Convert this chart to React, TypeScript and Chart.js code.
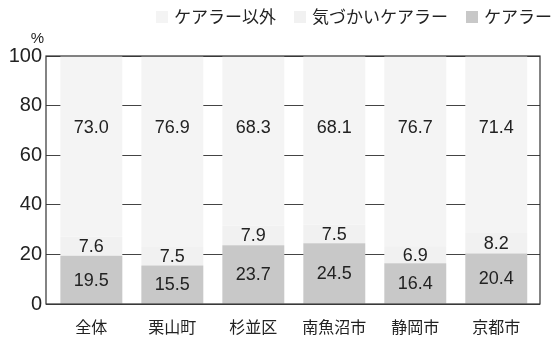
import React, { useEffect, useRef } from "react";
import { Chart, registerables } from "chart.js";

Chart.register(...registerables);

const categories = ["全体", "栗山町", "杉並区", "南魚沼市", "静岡市", "京都市"];
const carer = [19.5, 15.5, 23.7, 24.5, 16.4, 20.4];
const considerateCarer = [7.6, 7.5, 7.9, 7.5, 6.9, 8.2];
const nonCarer = [73.0, 76.9, 68.3, 68.1, 76.7, 71.4];
const seriesNames = ["ケアラー", "気づかいケアラー", "ケアラー以外"];
const seriesColors = ["#c8c8c8", "#f1f1f1", "#f4f4f4"];
const yTicks = [0, 20, 40, 60, 80, 100];
const nonCarerLabelLevel = 71.5;

const FONT = "'Liberation Sans', 'Noto Sans CJK JP', sans-serif";
const TEXT = "#222";

export default function App() {
  const ref = useRef<HTMLCanvasElement | null>(null);

  useEffect(() => {
    if (!ref.current) return;
    const toXY = (arr: number[]) => arr.map((v, i) => ({ x: i, y: v }));

    const labelPlugin = {
      id: "labels",
      afterDatasetsDraw(chart: any) {
        const ctx = chart.ctx;
        const ca = chart.chartArea;
        const yScale = chart.scales.y;
        // frame
        ctx.save();
        ctx.strokeStyle = "#333";
        ctx.lineWidth = 1.2;
        ctx.strokeRect(ca.left, ca.top, ca.right - ca.left, ca.bottom - ca.top);
        ctx.restore();
        // value labels
        ctx.save();
        ctx.font = `18px ${FONT}`;
        ctx.fillStyle = TEXT;
        ctx.textAlign = "center";
        ctx.textBaseline = "middle";
        chart.data.datasets.forEach((ds: any, di: number) => {
          const meta = chart.getDatasetMeta(di);
          meta.data.forEach((el: any, i: number) => {
            const v = ds.data[i].y;
            let y: number;
            if (di === 2) y = yScale.getPixelForValue(nonCarerLabelLevel);
            else y = (el.y + el.base) / 2;
            ctx.fillText(v.toFixed(1), el.x, y + 1);
          });
        });
        // percent unit
        ctx.font = `15px ${FONT}`;
        ctx.textAlign = "right";
        ctx.fillText("%", ca.left - 2, ca.top - 17);
        ctx.restore();

        // legend (reverse order, right aligned)
        ctx.save();
        const fs = 17;
        const box = 12;
        const boxGap = 6;
        const itemGap = 18;
        ctx.font = `${fs}px ${FONT}`;
        ctx.textBaseline = "middle";
        ctx.textAlign = "left";
        const order = [2, 1, 0];
        const widths = order.map((di) => box + boxGap + ctx.measureText(seriesNames[di]).width);
        const total = widths.reduce((a, b) => a + b, 0) + itemGap * (order.length - 1);
        let x = chart.width - 8 - total;
        const cy = 17;
        order.forEach((di, k) => {
          ctx.fillStyle = seriesColors[di];
          ctx.fillRect(x, cy - box / 2, box, box);
          ctx.fillStyle = TEXT;
          ctx.fillText(seriesNames[di], x + box + boxGap, cy + 1);
          x += widths[k] + itemGap;
        });
        ctx.restore();
      },
    };

    const chart = new Chart(ref.current, {
      type: "bar",
      data: {
        datasets: seriesNames.map((name, i) => ({
          label: name,
          data: toXY([carer, considerateCarer, nonCarer][i]),
          backgroundColor: seriesColors[i],
          borderWidth: 0,
        })),
      },
      plugins: [labelPlugin],
      options: {
        animation: false,
        responsive: true,
        maintainAspectRatio: false,
        datasets: {
          bar: { categoryPercentage: 1, barPercentage: 0.765 },
        },
        layout: { padding: { left: 0, right: 20, top: 56, bottom: 0 } },
        plugins: {
          tooltip: { enabled: false },
          legend: { display: false },
        },
        scales: {
          x: {
            type: "linear",
            stacked: true,
            offset: false,
            min: -0.56,
            max: 5.54,
            grid: { display: false },
            border: { display: false },
            afterBuildTicks: (scale: any) => {
              scale.ticks = categories.map((_, i) => ({ value: i }));
            },
            afterFit: (scale: any) => {
              scale.height = 34;
            },
            ticks: {
              callback: (v: any) => categories[v as number] ?? "",
              font: { family: FONT, size: 16 },
              color: TEXT,
              padding: 7,
              maxRotation: 0,
              autoSkip: false,
            },
          },
          y: {
            stacked: true,
            min: 0,
            max: 100,
            afterBuildTicks: (scale: any) => {
              scale.ticks = yTicks.map((v) => ({ value: v }));
            },
            afterFit: (scale: any) => {
              scale.width = 46;
            },
            grid: { color: "#444", lineWidth: 1, drawTicks: false },
            border: { display: false },
            ticks: {
              font: { family: FONT, size: 20 },
              color: TEXT,
              padding: 4,
            },
          },
        },
      },
    });
    return () => chart.destroy();
  }, []);

  return (
    <div style={{ position: "fixed", left: 0, top: 0, width: 560, height: 338, background: "#fff" }}>
      <canvas ref={ref} />
    </div>
  );
}
